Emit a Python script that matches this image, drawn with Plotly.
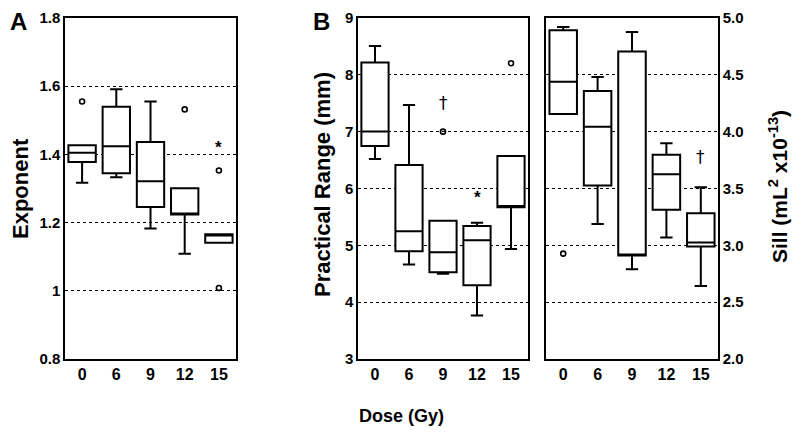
import plotly.graph_objects as go

doses = ["0", "6", "9", "12", "15"]
xpos = [0, 1, 2, 3, 4]

# Panel A: Exponent
exp_q1 = [1.378, 1.345, 1.246, 1.224, 1.141]
exp_med = [1.405, 1.424, 1.321, 1.224, 1.162]
exp_q3 = [1.427, 1.540, 1.436, 1.301, 1.166]
exp_lo = [1.317, 1.333, 1.183, 1.109, 1.141]
exp_hi = [1.427, 1.591, 1.555, 1.301, 1.166]
exp_out_x = [0, 3, 4, 4]
exp_out_y = [1.555, 1.532, 1.353, 1.008]

# Panel B left: Practical range (mm)
rng_q1 = [6.749, 4.895, 4.526, 4.298, 5.672]
rng_med = [7.005, 5.246, 4.877, 5.088, 5.69]
rng_q3 = [8.216, 6.415, 5.433, 5.339, 6.574]
rng_lo = [6.52, 4.661, 4.50, 3.767, 4.935]
rng_hi = [8.509, 7.468, 5.433, 5.398, 6.574]
rng_out_x = [2, 4]
rng_out_y = [7.0, 8.205]

# Panel B right: Sill
sill_q1 = [4.155, 3.526, 2.910, 3.313, 2.989]
sill_med = [4.439, 4.044, 2.92, 3.625, 3.024]
sill_q3 = [4.892, 4.357, 4.705, 3.796, 3.283]
sill_lo = [4.155, 3.187, 2.789, 3.07, 2.643]
sill_hi = [4.921, 4.482, 4.877, 3.898, 3.511]
sill_out_x = [0]
sill_out_y = [2.927]

# significance marks: (symbol, axis, x, y)
marks = [("*", "1", 4, 1.42), ("†", "2", 2, 7.5), ("*", "2", 3, 5.85), ("†", "3", 4, 3.78)]

FONT = "Liberation Sans Narrow, Liberation Sans, Arial"
FONTB = "Liberation Sans, Arial"

# The page body has an 8px margin; figure is sized so page fits 800x436.
W, H, OFF = 784, 420, 8


def px(X):
    return (X - OFF) / W


def py(Y):
    return 1 - (Y - OFF) / H


fig = go.Figure()

panels = [
    ("x", "y", exp_q1, exp_med, exp_q3, exp_lo, exp_hi, exp_out_x, exp_out_y),
    ("x2", "y2", rng_q1, rng_med, rng_q3, rng_lo, rng_hi, rng_out_x, rng_out_y),
    ("x3", "y3", sill_q1, sill_med, sill_q3, sill_lo, sill_hi, sill_out_x, sill_out_y),
]
for xa, ya, q1, med, q3, lo, hi, ox, oy in panels:
    fig.add_trace(go.Box(
        x=xpos, q1=q1, median=med, q3=q3, lowerfence=lo, upperfence=hi,
        xaxis=xa, yaxis=ya, width=0.8, whiskerwidth=0.45,
        fillcolor="white", line=dict(color="black", width=2),
        boxpoints=False, showlegend=False, hoverinfo="skip",
    ))
    fig.add_trace(go.Scatter(
        x=ox, y=oy, xaxis=xa, yaxis=ya, mode="markers",
        marker=dict(symbol="circle-open", size=5, color="black", line=dict(width=1.6)),
        showlegend=False, hoverinfo="skip",
    ))

for sym, ax, xv, yv in marks:
    if sym == "*":
        txt, fam = "<b>*</b>", FONTB
    else:
        txt, fam = sym, "DejaVu Sans, Liberation Sans"
    fig.add_annotation(x=xv, y=yv, xref="x" + ("" if ax == "1" else ax), yref="y" + ("" if ax == "1" else ax),
                       text=txt, showarrow=False,
                       font=dict(family=fam, size=17, color="#000000"))

ydom = [py(359), py(18)]
common_x = dict(range=[-0.5, 4.5], tickvals=xpos, ticktext=doses, showgrid=False, zeroline=False,
                showline=True, linecolor="black", linewidth=1.5, mirror=True, ticks="",
                automargin=False,
                tickfont=dict(family=FONT, size=16, color="black", weight="bold"), fixedrange=True)
common_y = dict(showgrid=True, gridcolor="black", griddash="dot", gridwidth=1, zeroline=False,
                showline=True, linecolor="black", linewidth=1.5, mirror=True, ticks="",
                automargin=False,
                tickfont=dict(family=FONTB, size=15, color="black", weight="bold"), domain=ydom)

fig.update_layout(
    template="none",
    width=W, height=H, margin=dict(l=0, r=0, t=0, b=0, autoexpand=False),
    paper_bgcolor="white", plot_bgcolor="white",
    xaxis=dict(domain=[px(65), px(236)], anchor="y", **common_x),
    xaxis2=dict(domain=[px(358), px(528)], anchor="y2", **common_x),
    xaxis3=dict(domain=[px(546), px(718)], anchor="y3", **common_x),
    yaxis=dict(range=[0.8, 1.8], tickvals=[0.8, 1, 1.2, 1.4, 1.6, 1.8],
               ticktext=["0.8", "1", "1.2", "1.4", "1.6", "1.8"], anchor="x", **common_y),
    yaxis2=dict(range=[3, 9], tickvals=[3, 4, 5, 6, 7, 8, 9], anchor="x2", **common_y),
    yaxis3=dict(range=[2, 5], tickvals=[2, 2.5, 3, 3.5, 4, 4.5, 5],
                ticktext=["2.0", "2.5", "3.0", "3.5", "4.0", "4.5", "5.0"],
                anchor="x3", side="right", **common_y),
)

lab = dict(xref="paper", yref="paper", showarrow=False, xanchor="center", yanchor="middle")
fig.add_annotation(x=px(18), y=py(22), text="<b>A</b>",
                   font=dict(family=FONTB, size=24, color="black"), **lab)
fig.add_annotation(x=px(321), y=py(22), text="<b>B</b>",
                   font=dict(family=FONTB, size=24, color="black"), **lab)
fig.add_annotation(x=px(20), y=py(189), text="<b>Exponent</b>", textangle=-90,
                   font=dict(family=FONTB, size=22, color="black"), **lab)
fig.add_annotation(x=px(322), y=py(185), text="<b>Practical Range (mm)</b>", textangle=-90,
                   font=dict(family=FONTB, size=22, color="black"), **lab)
fig.add_annotation(x=px(778), y=py(187), text="<b>Sill (mL<sup>2</sup> x10<sup>-13</sup>)</b>",
                   textangle=-90, font=dict(family=FONTB, size=21, color="black"), **lab)
fig.add_annotation(x=px(401), y=py(416), text="<b>Dose (Gy)</b>",
                   font=dict(family=FONT, size=18, color="black"), **lab)

fig.write_html("out.html")
